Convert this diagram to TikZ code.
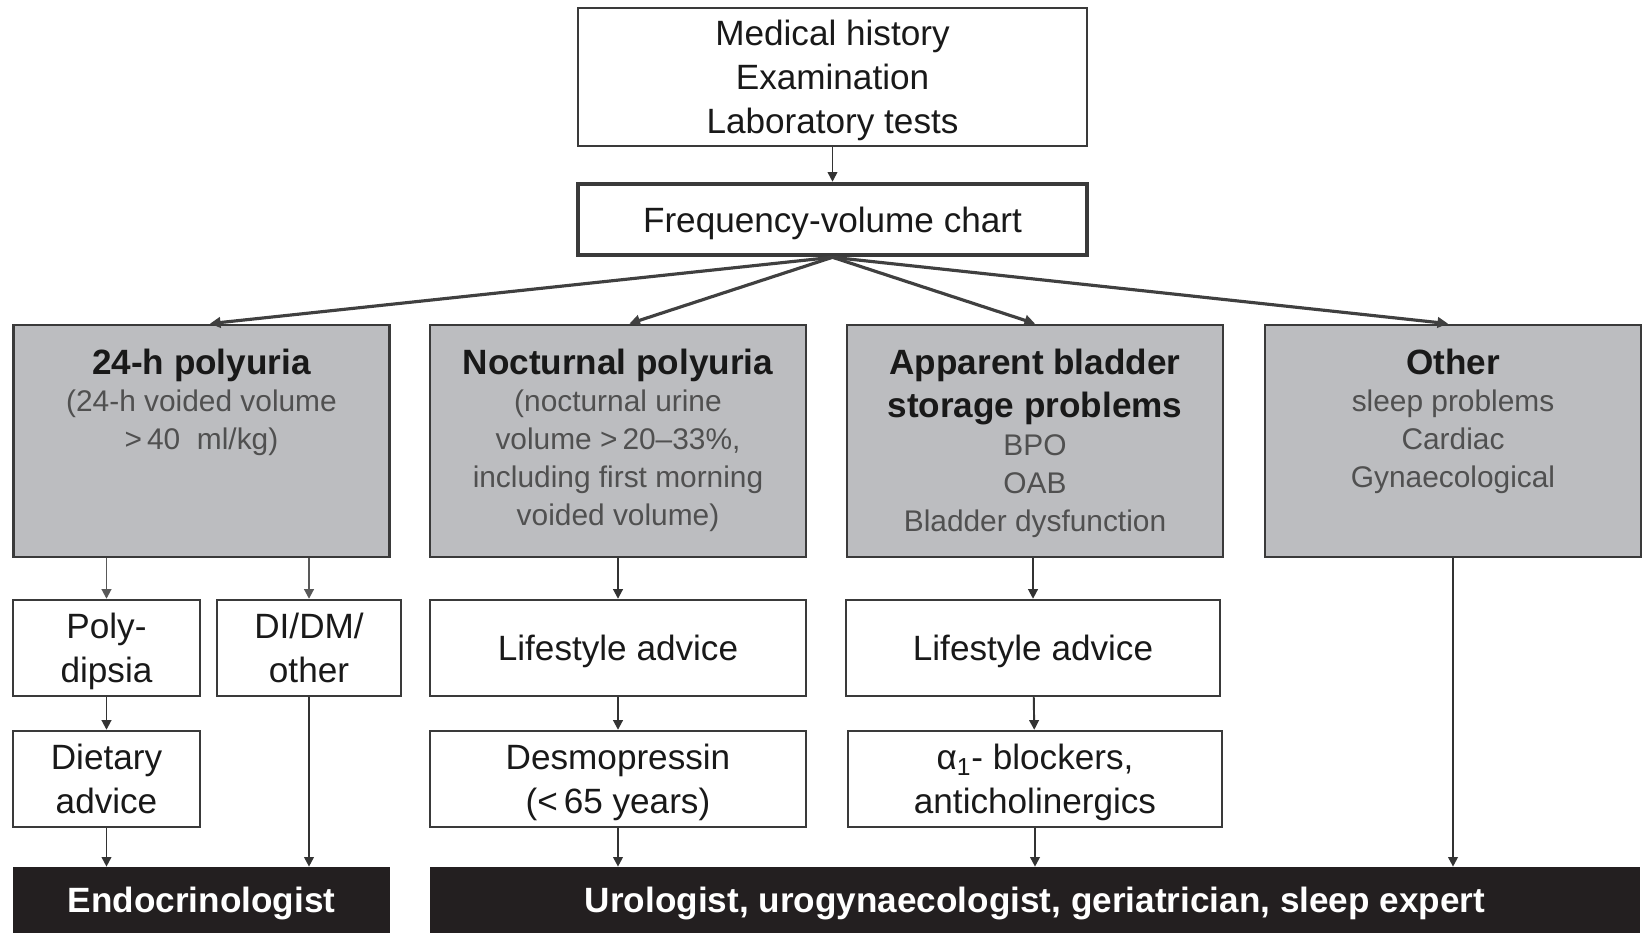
\documentclass[tikz,border=0pt]{standalone}
\usepackage{fontspec}
\setmainfont{Liberation Sans}
\usepackage{xcolor}
\usetikzlibrary{arrows.meta,positioning}
\definecolor{boxgray}{HTML}{BCBDC0}
\definecolor{edgegray}{HTML}{3A3A3A}
\definecolor{barblack}{HTML}{231F20}
\definecolor{notegray}{HTML}{505050}
\newcommand{\notefont}{\fontsize{17}{21.6}\selectfont\color{notegray}}

\begin{document}
\begin{tikzpicture}[x=0.02cm,y=-0.02cm,
  every node/.style={font=\fontsize{20}{25}\selectfont, text=black!90, align=center},
  wbox/.style={draw=edgegray, line width=1.4pt, fill=white, inner sep=2pt, text depth=0pt, minimum height=1.92cm},
  gbox/.style={draw=edgegray, line width=1.6pt, fill=boxgray, minimum width=7.52cm, minimum height=4.64cm},
  gtext/.style={inner sep=0pt, text width=7.2cm, align=flush center},
  bbar/.style={fill=barblack, text=white, font=\fontsize{20}{25}\selectfont\bfseries, text depth=0pt, minimum height=1.32cm},
  arr/.style={-{Triangle[length=5.5pt,width=5.5pt]}, line width=1.1pt, draw=black!80},
  fan/.style={-{Triangle[length=6pt,width=6pt]}, line width=1.8pt, draw=black!75}]
  \useasboundingbox (0,0) rectangle (1645,933);

  % Top: assessment
  \node[wbox, minimum width=10.18cm, minimum height=2.76cm] (hist) at (832.5,77) {Medical history\\ Examination\\ Laboratory tests};
  \node[wbox, line width=2.6pt, minimum width=10.18cm, minimum height=1.42cm] (fvc) at (832.5,219.5) {Frequency-volume chart};
  \draw[arr, line width=0.9pt] (hist) -- (fvc);

  % Diagnosis boxes
  \node[gbox] (gpoly) at (201.5,441) {};
  \node[gbox] (gnoct) at (618,441) {};
  \node[gbox] (gstor) at (1035,441) {};
  \node[gbox] (goth) at (1453,441) {};

  \node[gtext, below=14pt of gpoly.north] (tpoly) {\textbf{24-h polyuria}\par
    {\notefont (24-h voided volume\\ >\,40~~ml/kg)\par}};
  \node[gtext, below=14pt of gnoct.north] (tnoct) {\textbf{Nocturnal polyuria}\par
    {\notefont (nocturnal urine\\ volume >\,20--33\%,\\ including first morning\\ voided volume)\par}};
  \node[gtext, below=14pt of gstor.north] (tstor) {\textbf{Apparent bladder}\\ \textbf{storage problems}\par
    {\notefont BPO\\ OAB\\ Bladder dysfunction\par}};
  \node[gtext, below=14pt of goth.north] (toth) {\textbf{Other}\par
    {\notefont sleep problems\\ Cardiac\\ Gynaecological\par}};

  \foreach \g/\dx in {gpoly/0.17cm,gnoct/0.23cm,gstor/0cm,goth/-0.1cm}
    \draw[fan] (fvc.south) -- ([xshift=\dx]\g.north);

  % Treatment steps
  \node[wbox, minimum width=3.74cm] (dips) at (106.5,648) {Poly-\\ dipsia};
  \node[wbox, minimum width=3.68cm] (didm) at (309,648) {DI/DM/\\ other};
  \node[wbox, minimum width=7.52cm] (life1) at (618,648) {Lifestyle advice};
  \node[wbox, minimum width=7.48cm] (life2) at (1033,648) {Lifestyle advice};

  \node[wbox, minimum width=3.74cm] (diet) at (106.5,779) {Dietary\\ advice};
  \node[wbox, minimum width=7.52cm] (desmo) at (618,779) {Desmopressin\\ (<\,65 years)};
  \node[wbox, minimum width=7.48cm] (alpha) at (1035,779) {α\textsubscript{1}- blockers,\\ anticholinergics};

  % Referral
  \node[bbar, minimum width=7.54cm] (endo) at (201.5,900) {Endocrinologist};
  \node[bbar, minimum width=24.2cm] (uro) at (1035,900) {Urologist, urogynaecologist, geriatrician, sleep expert};

  % Vertical arrows
  \draw[arr, draw=black!65] (dips.north |- gpoly.south) -- (dips);
  \draw[arr, draw=black!65] (didm.north |- gpoly.south) -- (didm);
  \draw[arr] (life1.north |- gnoct.south) -- (life1);
  \draw[arr] (life2.north |- gstor.south) -- (life2);
  \draw[arr] (dips) -- (diet);
  \draw[arr] (life1) -- (desmo);
  \draw[arr] (life2) -- (alpha);
  \draw[arr] (diet) -- (diet |- endo.north);
  \draw[arr] (didm) -- (didm |- endo.north);
  \draw[arr] (desmo) -- (desmo |- uro.north);
  \draw[arr] (alpha) -- (alpha |- uro.north);
  \draw[arr] (goth) -- (goth |- uro.north);
\end{tikzpicture}
\end{document}
